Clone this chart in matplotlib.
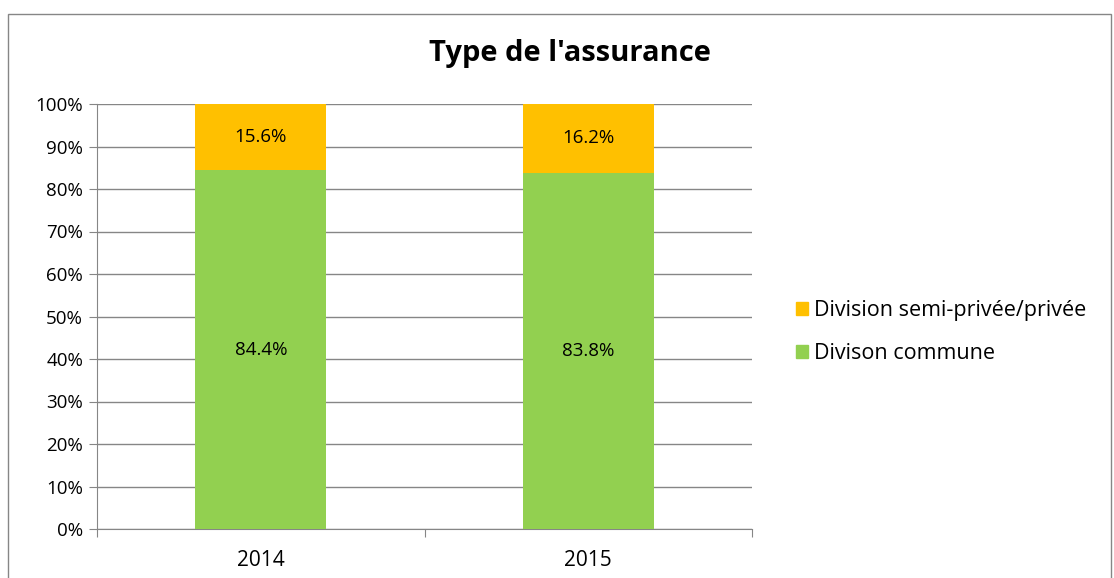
import matplotlib.pyplot as plt
from matplotlib.patches import Rectangle, Patch
import numpy as np

plt.rcParams['font.family'] = ['Open Sans', 'DejaVu Sans']

annees = ['2014', '2015']
commune = [84.4, 83.8]
semi_privee = [15.6, 16.2]
noms = ['Divison commune', 'Division semi-privée/privée']
couleurs = ['#92D050', '#FFC000']

fig = plt.figure(figsize=(11.14, 5.78), dpi=100)
ax = fig.add_axes([97 / 1114, 1 - 529 / 578, (752 - 97) / 1114, (529 - 104) / 578])

x = np.arange(len(annees))
ax.bar(x, commune, width=0.4, color=couleurs[0], zorder=3)
ax.bar(x, semi_privee, width=0.4, bottom=commune, color=couleurs[1], zorder=3)

for i in range(len(annees)):
    ax.text(x[i], commune[i] / 2, f'{commune[i]:.1f}%', ha='center', va='center', fontsize=13.5, zorder=4)
    ax.text(x[i], commune[i] + semi_privee[i] / 2, f'{semi_privee[i]:.1f}%', ha='center', va='center',
            fontsize=13.5, zorder=4)

ax.set_xlim(-0.5, 1.5)
ax.set_ylim(0, 100)
ax.set_yticks(np.arange(0, 101, 10))
ax.set_yticklabels([f'{v}%' for v in range(0, 101, 10)], fontsize=13.5)
ax.set_xticks([-0.5, 0.5, 1.5], minor=False)
ax.set_xticklabels([])
ax.set_xticks(x, minor=True)
ax.set_xticklabels(annees, minor=True, fontsize=15)
ax.tick_params(axis='x', which='minor', length=0, pad=15)
ax.tick_params(axis='x', which='major', length=6, color='#868686', direction='out')
ax.tick_params(axis='y', length=6, color='#868686', pad=4)

ax.grid(axis='y', color='#868686', linewidth=1, zorder=0)
for s in ['top', 'right']:
    ax.spines[s].set_visible(False)
for s in ['left', 'bottom']:
    ax.spines[s].set_color('#868686')

fig.text(570 / 1114, 1 - 54 / 578, "Type de l'assurance", ha='center', va='center', fontsize=21, fontweight='bold')

handles = [Patch(color=couleurs[1]), Patch(color=couleurs[0])]
fig.legend(handles, [noms[1], noms[0]], loc='center left', bbox_to_anchor=(777 / 1114, 1 - 332 / 578),
           frameon=False, fontsize=15.5, handlelength=0.55, handleheight=0.55, handletextpad=0.25,
           labelspacing=1.05)

fig.patches.append(Rectangle((8 / 1114, -0.05), 1103 / 1114, 1.05 - 14 / 578, transform=fig.transFigure,
                             fill=False, edgecolor='#868686', linewidth=1))

fig.savefig('out.png', dpi=100)
